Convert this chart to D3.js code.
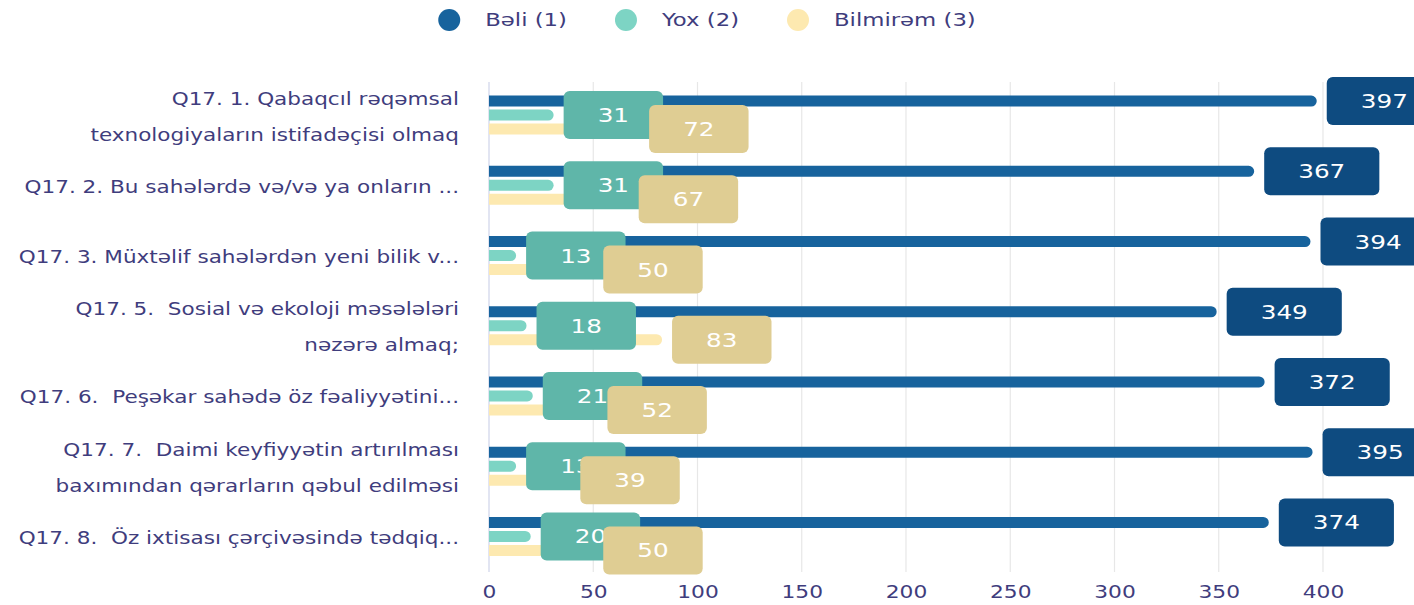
<!DOCTYPE html>
<html>
<head>
<meta charset="utf-8">
<script src="https://cdn.jsdelivr.net/npm/d3@7"></script>
<style>
  body { margin: 0; background: #fff; }
  text { font-family: "DejaVu Sans", sans-serif; }
</style>
</head>
<body>
<div id="chart"></div>
<script>
var categories = [
  "Q17. 1. Qabaqcıl rəqəmsal\ntexnologiyaların istifadəçisi olmaq",
  "Q17. 2. Bu sahələrdə və/və ya onların ...",
  "Q17. 3. Müxtəlif sahələrdən yeni bilik v...",
  "Q17. 5.  Sosial və ekoloji məsələləri\nnəzərə almaq;",
  "Q17. 6.  Peşəkar sahədə öz fəaliyyətini...",
  "Q17. 7.  Daimi keyfiyyətin artırılması\nbaxımından qərarların qəbul edilməsi",
  "Q17. 8.  Öz ixtisası çərçivəsində tədqiq..."
];
var seriesNames = ["Bəli (1)", "Yox (2)", "Bilmirəm (3)"];
var beli = [397, 367, 394, 349, 372, 395, 374];
var yox = [31, 31, 13, 18, 21, 13, 20];
var bilmirem = [72, 67, 50, 83, 52, 39, 50];
var xTicks = [0, 50, 100, 150, 200, 250, 300, 350, 400];

var seriesValues = [beli, yox, bilmirem];
var barColors = ["#17639d", "#7dd4c4", "#fde9b0"];
var boxColors = ["#0e4b80", "#5fb6a9", "#dfcd93"];
var textColor = "#3f3d7d";

// the reference text is drawn wide, so stretch text horizontally
var stretch = 1.28;

var width = 1414, height = 605;

var svg = d3.select("#chart")
  .append("svg")
  .attr("width", width)
  .attr("height", height);

var x = d3.scaleLinear().domain([0, 440]).range([489, 489 + 440 * 2.085]);

var y = d3.scaleBand().domain(d3.range(categories.length)).range([80, 571.5]);

var ySub = d3.scaleBand().domain([0, 1, 2]).range([-21, 21]);

var barH = 11;

// gridlines
svg.append("g")
  .selectAll("line")
  .data(xTicks)
  .enter().append("line")
  .attr("x1", function(d) { return x(d); })
  .attr("x2", function(d) { return x(d); })
  .attr("y1", 82)
  .attr("y2", 572)
  .attr("stroke", function(d) { return d === 0 ? "#cfd4ea" : "#e7e7e7"; })
  .attr("stroke-width", 1.2);

// x axis labels
var xAxis = d3.axisBottom(x).tickValues(xTicks).tickSize(0).tickPadding(0);
var xg = svg.append("g")
  .attr("transform", "translate(0,586)")
  .call(xAxis);
xg.select(".domain").remove();
xg.selectAll("text")
  .attr("dy", "0.71em")
  .attr("transform", "scale(" + stretch + ",1)")
  .style("font-family", "DejaVu Sans, sans-serif")
  .style("font-size", "17px")
  .attr("fill", textColor);

// y labels
var yl = svg.append("g")
  .selectAll("g")
  .data(categories)
  .enter().append("g")
  .attr("transform", function(d, i) {
    return "translate(459," + (y(i) + y.bandwidth() / 2 + 1) + ") scale(1.165,1)";
  })
  .append("text")
  .attr("text-anchor", "end")
  .attr("fill", textColor)
  .style("font-size", "18.5px")
  .style("white-space", "pre");

yl.each(function(d) {
  var lines = d.split("\n");
  var t = d3.select(this);
  var off = -(lines.length - 1) * 36 / 2;
  lines.forEach(function(line, k) {
    t.append("tspan")
      .attr("x", 0)
      .attr("dy", k === 0 ? (off + 6.5) : 36)
      .text(line);
  });
});

function barPath(x0, x1, yTop, h) {
  var r = h / 2;
  if (x1 - x0 < r) r = Math.max(0, x1 - x0);
  return "M" + x0 + "," + yTop +
    "H" + (x1 - r) +
    "A" + r + "," + r + " 0 0 1 " + (x1 - r) + "," + (yTop + h) +
    "H" + x0 + "Z";
}

// bars
seriesValues.forEach(function(vals, s) {
  svg.append("g")
    .selectAll("path")
    .data(vals)
    .enter().append("path")
    .attr("d", function(d, i) {
      var cy = y(i) + y.bandwidth() / 2 + ySub(s) + ySub.bandwidth() / 2;
      return barPath(x(0), x(d), cy - barH / 2, barH);
    })
    .attr("fill", barColors[s]);
});

// value label boxes
seriesValues.forEach(function(vals, s) {
  var g = svg.append("g");
  vals.forEach(function(v, i) {
    var cy = y(i) + y.bandwidth() / 2 + ySub(s) + ySub.bandwidth() / 2;
    var lg = g.append("g");
    var rect = lg.append("rect");
    var txt = lg.append("text")
      .attr("fill", "#fff")
      .attr("text-anchor", "middle")
      .style("font-size", "19px")
      .text(v);
    var tw = txt.node().getComputedTextLength() * 1.3;
    var bw = tw + 68;
    var bx = x(v) + 10;
    rect.attr("x", bx)
      .attr("y", cy - 24)
      .attr("width", bw)
      .attr("height", 48)
      .attr("rx", 6)
      .attr("fill", boxColors[s]);
    txt.attr("transform", "translate(" + (bx + bw / 2) + "," + (cy + 7) + ") scale(1.3,1)");
  });
});

// legend
var legend = svg.append("g");
var lx = 0;
seriesNames.forEach(function(name, s) {
  var item = legend.append("g").attr("transform", "translate(" + lx + ",0)");
  item.append("circle")
    .attr("cx", 11).attr("cy", 20).attr("r", 11)
    .attr("fill", barColors[s]);
  var t = item.append("text")
    .attr("fill", textColor)
    .style("font-size", "17px")
    .attr("transform", "translate(47,26) scale(1.34,1)")
    .text(name);
  lx += 47 + t.node().getComputedTextLength() * 1.34 + 48;
});
var lw = lx - 48;
legend.attr("transform", "translate(" + (width / 2 - lw / 2) + ",0)");
</script>
</body>
</html>
